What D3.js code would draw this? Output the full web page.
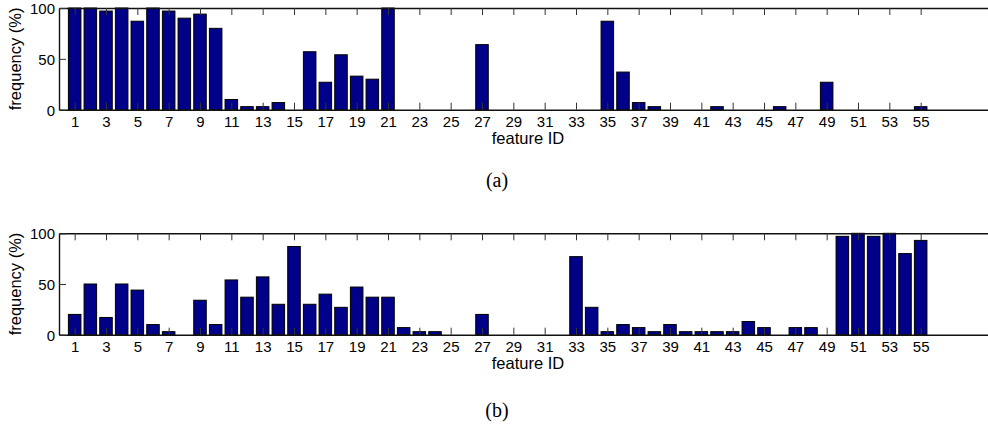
<!DOCTYPE html>
<html>
<head>
<meta charset="utf-8">
<script src="https://cdn.jsdelivr.net/npm/d3@7"></script>
<style>
  html, body { margin: 0; padding: 0; background: #fff; }
  svg { display: block; overflow: hidden; }
  text { font-family: "Liberation Sans", Arial, sans-serif; fill: #000; }
  .caption { font-family: "Liberation Serif", "DejaVu Serif", serif; font-size: 20px; }
</style>
</head>
<body>
<svg id="chart"></svg>
<script>
const WIDTH = 988;
const HEIGHT = 424;

// feature IDs 1..55
const featureIds = d3.range(1, 56);
const xTickValues = d3.range(1, 56, 2);
const yTickValues = [0, 50, 100];

// frequency (%) of each feature, panel (a)
const freqA = [
  100, 100, 97, 100, 87, 100, 97, 90, 94, 80,
  10, 3, 3, 7, 0, 57, 27, 54, 33, 30,
  100, 0, 0, 0, 0, 0, 64, 0, 0, 0,
  0, 0, 0, 0, 87, 37, 7, 3, 0, 0,
  0, 3, 0, 0, 0, 3, 0, 0, 27, 0,
  0, 0, 0, 0, 3
];

// frequency (%) of each feature, panel (b)
const freqB = [
  20, 50, 17, 50, 44, 10, 3, 0, 34, 10,
  54, 37, 57, 30, 87, 30, 40, 27, 47, 37,
  37, 7, 3, 3, 0, 0, 20, 0, 0, 0,
  0, 0, 77, 27, 3, 10, 7, 3, 10, 3,
  3, 3, 3, 13, 7, 0, 7, 7, 0, 97,
  100, 97, 100, 80, 93
];

const svg = d3.select('#chart')
  .attr('width', WIDTH)
  .attr('height', HEIGHT)
  .attr('viewBox', `0 0 ${WIDTH} ${HEIGHT}`);

// x range runs past the right edge of the picture, as in the original
const x = d3.scaleLinear().domain([0, 60]).range([59, 999]);
const BAR_W = 0.8 * (x(1) - x(0));
const TICK = 7;

function drawPanel(values, top, bottom, caption, captionY) {
  const y = d3.scaleLinear().domain([0, 100]).range([bottom, top]);
  const g = svg.append('g');

  // bars
  g.selectAll('rect')
    .data(values)
    .enter()
    .append('rect')
    .attr('x', (d, i) => x(featureIds[i]) - BAR_W / 2)
    .attr('y', d => y(d))
    .attr('width', BAR_W)
    .attr('height', d => y(0) - y(d))
    .attr('fill', '#000088')
    .attr('stroke', '#000')
    .attr('stroke-width', 1);

  // bottom axis, ticks pointing inward
  const xBottom = d3.axisBottom(x)
    .tickValues(xTickValues)
    .tickSizeInner(-TICK)
    .tickSizeOuter(0)
    .tickPadding(7);
  const gx = g.append('g')
    .attr('transform', `translate(0,${bottom})`)
    .call(xBottom);

  // top axis: ticks only
  const xTop = d3.axisTop(x)
    .tickValues(xTickValues)
    .tickSizeInner(-TICK)
    .tickSizeOuter(0)
    .tickFormat('');
  const gxt = g.append('g')
    .attr('transform', `translate(0,${top})`)
    .call(xTop);

  // left axis
  const yLeft = d3.axisLeft(y)
    .tickValues(yTickValues)
    .tickSizeInner(-TICK)
    .tickSizeOuter(0)
    .tickPadding(4);
  const gy = g.append('g')
    .attr('transform', `translate(${x(0)},0)`)
    .call(yLeft);

  for (const a of [gx, gxt, gy]) {
    a.select('.domain').attr('stroke', '#111').attr('stroke-width', 1.4);
    a.selectAll('.tick line').attr('stroke', '#333').attr('stroke-width', 1);
    a.selectAll('.tick text')
      .style('font-family', '"Liberation Sans", Arial, sans-serif')
      .style('font-size', '15px')
      .attr('fill', '#000');
  }
  gy.selectAll('.tick text').attr('dy', '0.36em');

  g.append('text')
    .attr('x', 528)
    .attr('y', bottom + 34)
    .attr('text-anchor', 'middle')
    .style('font-size', '16.5px')
    .text('feature ID');

  g.append('text')
    .attr('transform', `translate(21,${(top + bottom) / 2}) rotate(-90)`)
    .attr('text-anchor', 'middle')
    .style('font-size', '16.5px')
    .text('frequency (%)');

  g.append('text')
    .attr('class', 'caption')
    .attr('x', 497)
    .attr('y', captionY)
    .attr('text-anchor', 'middle')
    .text(caption);
}

drawPanel(freqA, 8, 109.7, '(a)', 187);
drawPanel(freqB, 233.3, 334.7, '(b)', 417);
</script>
</body>
</html>
